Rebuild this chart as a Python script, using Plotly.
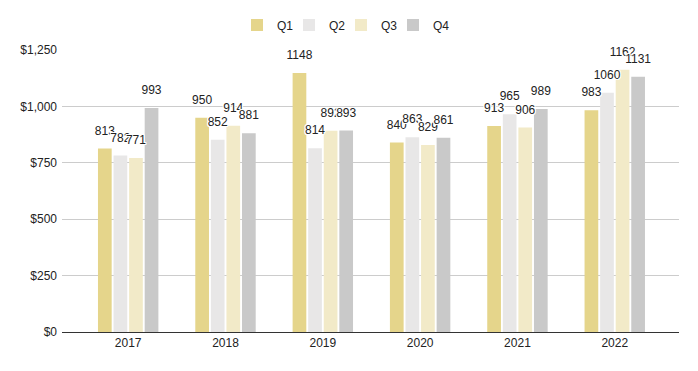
import plotly.graph_objects as go

years = ["2017", "2018", "2019", "2020", "2021", "2022"]
series_names = ["Q1", "Q2", "Q3", "Q4"]
q1 = [813, 950, 1148, 840, 913, 983]
q2 = [782, 852, 814, 863, 965, 1060]
q3 = [771, 914, 892, 829, 906, 1162]
q4 = [993, 881, 893, 861, 989, 1131]
colors = ["#e5d58b", "#e8e7e7", "#f2eac8", "#c9c9c9"]
y_ticks = [0, 250, 500, 750, 1000, 1250]

W, H = 698, 371
font_family = "Arial, 'Liberation Sans', sans-serif"
legend_ids = ["legend", "legend2", "legend3", "legend4"]
legend_sq_px = [257, 309, 361, 413]  # legend swatch centres (px)
halo = ("white 1px 0px 0px, white -1px 0px 0px, white 0px 1px 0px, white 0px -1px 0px, "
        "white 1px 1px 0px, white -1px -1px 0px, white 1px -1px 0px, white -1px 1px 0px")

fig = go.Figure()
for name, vals, col, lg in zip(series_names, [q1, q2, q3, q4], colors, legend_ids):
    fig.add_trace(go.Bar(
        x=years, y=vals, name=name, marker=dict(color=col, line=dict(width=0)),
        offsetgroup=name, alignmentgroup="a", legend=lg,
    ))
for name, vals in zip(series_names, [q1, q2, q3, q4]):
    fig.add_trace(go.Scatter(
        x=years, y=vals, mode="markers+text", text=[str(v) for v in vals],
        textposition="top center",
        textfont=dict(size=12, color="#222222", family=font_family, shadow=halo),
        marker=dict(size=16, opacity=0), showlegend=False, hoverinfo="skip",
        offsetgroup=name, alignmentgroup="a", cliponaxis=False,
    ))

fig.update_layout(
    width=W, height=H,
    margin=dict(l=62, r=19, t=50, b=39, autoexpand=False),
    paper_bgcolor="white", plot_bgcolor="white",
    barmode="group", bargap=0.36, bargroupgap=0.12,
    scattermode="group", scattergap=0.36,
    font=dict(family=font_family, size=12, color="#222222"),
    showlegend=True,
)
for lg, px in zip(legend_ids, legend_sq_px):
    fig.update_layout({lg: dict(
        orientation="h", x=(px - 20) / W, xanchor="left", xref="container",
        y=1 - 25 / H, yanchor="middle", yref="container",
        font=dict(size=12, color="#222222"), itemwidth=30, bgcolor="rgba(0,0,0,0)",
    )})
fig.update_xaxes(
    type="category", range=[-0.68, 5.66], showgrid=False, ticks="", automargin=False,
    showline=True, linecolor="#333333", linewidth=1,
    tickfont=dict(size=12, color="#222222"),
)
fig.update_yaxes(
    range=[0, 1250], tickvals=y_ticks, ticktext=["$" + format(v, ",") for v in y_ticks],
    showgrid=True, gridcolor="#cccccc", gridwidth=1, zeroline=False, automargin=False,
    tickfont=dict(size=12, color="#222222"), ticks="", ticklen=0, ticklabelstandoff=4,
)
fig.write_html("out.html", config={"displayModeBar": False},
               post_script="document.body.style.margin='0';")
